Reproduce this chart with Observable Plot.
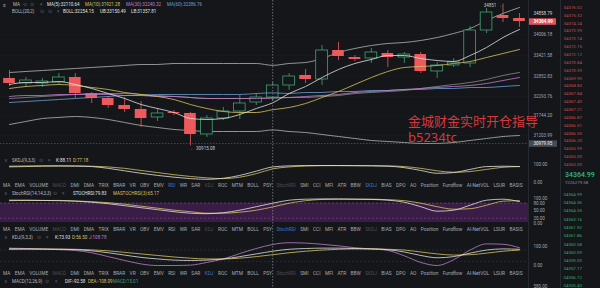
<!DOCTYPE html>
<html><head><meta charset="utf-8">
<script src="https://cdn.jsdelivr.net/npm/d3@7"></script>
<script src="https://cdn.jsdelivr.net/npm/@observablehq/plot@0.6"></script>
<style>
html,body{margin:0;padding:0;background:#14161a;overflow:hidden}
#root{position:relative;width:600px;height:288px;overflow:hidden;background:#14161a;font-family:Roboto,"Noto Sans",sans-serif}
.p{position:absolute}
.p svg{display:block;overflow:visible}
.t{position:absolute;white-space:nowrap;line-height:6px;height:6px}
.row{position:absolute;display:flex;justify-content:space-between;white-space:nowrap;line-height:6px;height:6px}
.sep{position:absolute;top:0;width:1px;height:288px;background:#262a30}
</style></head><body><div id="root"></div>
<script>
// ---------- data ----------
const opens  = [32786,32647,32647,32675,32813,32369,32231,32036,31926,31704,31842,31815,31232,31676,31870,32120,32258,32591,32869,32758,33562,33368,33340,33479,33368,33451,32980,33146,33202,34117,34533,34450];
const highs  = [33007,32813,32786,32924,32924,32397,32286,32258,32147,31953,31898,31842,31759,31981,32314,32369,32675,32924,33035,33701,33784,33423,33618,33562,33507,33507,33229,33340,34228,34727,34851,34589];
const lows   = [32564,32536,32536,32619,32231,32092,31953,31842,31426,31593,31759,30915.08,31149,31620,31648,32036,32147,32453,32647,32591,33285,33257,33202,33091,33202,32924,32786,33091,33091,34034,34339,34200];
const closes = [32647,32730,32702,32813,32369,32231,32036,31926,31676,31815,31815,31232,31676,31870,32092,32258,32591,32841,32758,33562,33396,33312,33507,33368,33451,32980,33146,33229,34117,34616,34450,34364.99];

const ma5  = [32619,32675,32675,32702,32619,32508,32369,32231,32064,31953,31842,31676,31648,31676,31787,31953,32111,32369,32564,32813,33035,33202,33313,33423,33423,33340,33285,33257,33423,33645,33923,34145];
const ma10 = [32508,32564,32591,32619,32591,32536,32481,32397,32342,32286,32203,32064,31953,31870,31842,31842,31921,31981,32092,32258,32425,32619,32813,32980,33091,33118,33146,33202,33257,33368,33479,33590];
const ma30 = [32286,32314,32314,32342,32342,32342,32342,32314,32314,32286,32286,32258,32231,32231,32231,32231,32240,32258,32286,32314,32342,32397,32425,32453,32481,32508,32536,32564,32591,32647,32730,32813];
const ma60 = [32120,32147,32175,32203,32231,32258,32286,32314,32314,32342,32342,32342,32342,32342,32342,32369,32387,32369,32397,32397,32425,32425,32453,32453,32481,32481,32508,32508,32536,32536,32564,32591];
const bollUp  = [32952,32980,33007,33035,33063,33091,33118,33146,33174,33174,33202,33202,33202,33202,33202,33202,33150,33202,33229,33340,33507,33618,33701,33756,33784,33840,33923,34034,34172,34394,34589,34755];
const bollMid = [32231,32258,32286,32314,32342,32369,32369,32369,32342,32314,32286,32258,32231,32231,32231,32231,32254,32258,32258,32286,32314,32369,32397,32425,32453,32508,32564,32619,32675,32758,32869,32952];
const bollLow = [31510,31593,31676,31704,31731,31704,31648,31565,31482,31426,31371,31343,31315,31315,31315,31315,31358,31315,31287,31232,31176,31121,31066,31038,31010,30983,30983,31010,31066,31121,31176,31204];

const priceTicks = [34006.18, 33421.58, 32852.83, 32293.76, 31744.20, 31203.99];
const lastPrice = 34364.99;
const markPrice = 34858.79;
const crossPrice = 30979.95;
const crossIndex = 16;
const lowIndex = 11;
const highIndex = 30;

const skdjK = [92,93,94,94,93,90,80,66,52,40,30,22,18,24,40,64,88,94,96,96,96,95,94,92,84,68,52,56,74,90,92,90];
const skdjD = [88,90,92,93,93,92,88,80,68,56,44,34,26,22,30,50,77,88,93,95,95,95,95,94,90,80,66,58,62,74,86,90];
const stochK = [92,92,91,90,88,84,78,70,62,54,46,40,38,42,52,66,80,92,96,97,97,96,95,92,84,66,48,52,72,92,96,86];
const stochMA = [90,91,91,91,89,86,82,76,68,60,52,46,40,40,44,52,65,80,90,95,96,96,96,94,90,80,66,56,58,72,88,90];
const stochBand = [3, 80];
const kdjK = [86,86,85,84,82,76,66,54,42,34,28,26,28,34,46,60,74,84,88,90,90,88,86,82,70,52,40,46,64,80,86,84];
const kdjD = [84,85,85,85,84,81,76,68,60,52,44,38,34,34,38,46,56,66,74,80,84,86,86,84,80,70,60,54,56,64,74,80];
const kdjJ = [90,88,86,82,78,66,46,26,8,0,0,2,16,34,62,88,109,118,116,110,102,92,86,78,50,16,0,30,80,112,110,92];
const oscTicks = [100, 0];
const stochTicks = [100, 80, 50, 20, 0];
const macdTicks = [580];

const asks = [34376.02,34375.32,34374.24,34373.99,34373.14,34372.15,34372.12,34370.84,34370.59,34369.90,34368.83,34367.84,34367.49,34367.21,34366.87,34366.51,34366.50,34366.20,34365.99,34365.00,34363.00];
const bids = [34364.99,34364.36,34364.35,34363.16,34361.92,34361.86,34360.58,34360.09,34359.00,34357.17,34356.72,34355.40];

const tabs = ["MA","EMA","VOLUME","MACD","DMI","DMA","TRIX","BRAR","VR","OBV","EMV","RSI","WR","SAR","KDJ","ROC","MTM","BOLL","PSY","StochRSI","SMI","CCI","MFI","ATR","BBW","SKDJ","BIAS","DPO","AO","Position","Fundflow","AI-NetVOL","LSUR","BASIS"];

// ---------- colours ----------
const BG = "#14161a", RED = "#ec5a5d", GREEN = "#41a474";
const C_WHITE = "#e2e2e2", C_YEL = "#d9c45c", C_PINK = "#c07ccc", C_BLUE = "#6a9fd8", C_BOLL = "#b4b4b4";
const AXIS = "#a3a7ad";

// ---------- helpers ----------
const root = document.getElementById("root");
const xDomain = [-0.547, 31.55];
const idx = closes.map((_, i) => i);
const baseStyle = {background: "transparent", overflow: "visible", maxWidth: "none", fontFamily: "Roboto, sans-serif"};
function place(node, left, top, width) {
  const d = document.createElement("div");
  d.className = "p"; d.style.left = left + "px"; d.style.top = top + "px"; d.style.width = width + "px";
  d.appendChild(node); root.appendChild(d);
}
function label(text, left, cy, color, size = 4.5, extra = {}) {
  const s = document.createElement("div");
  s.className = "t"; s.textContent = text;
  s.style.left = left + "px"; s.style.top = (cy - 3) + "px";
  s.style.color = color; s.style.fontSize = size + "px";
  Object.assign(s.style, extra);
  root.appendChild(s);
}
const series = (arr, color, w = 0.8) => Plot.line(idx, {x: d => d, y: d => arr[d], stroke: color, strokeWidth: w, curve: "monotone-x"});

// ---------- main candle chart ----------
const candles = idx.map(i => ({i, o: opens[i], h: highs[i], l: lows[i], c: closes[i]}));
const ups = candles.filter(d => d.c >= d.o);
const downs = candles.filter(d => d.c < d.o);
const main = Plot.plot({
  width: 528, height: 150, margin: 0,
  x: {domain: xDomain, axis: null},
  y: {domain: [30788, 34949], axis: null},
  style: baseStyle,
  marks: [
    Plot.ruleY(priceTicks, {stroke: "#1c1f24", strokeWidth: 0.6}),
    series(bollUp, C_BOLL), series(bollMid, "#9c9c9c", 0.7), series(bollLow, C_BOLL),
    Plot.ruleX(downs, {x: "i", y1: "l", y2: "h", stroke: RED, strokeWidth: 0.8}),
    Plot.rect(downs, {x1: d => d.i - 0.355, x2: d => d.i + 0.355, y1: "o", y2: "c", fill: RED}),
    Plot.ruleX(ups, {x: "i", y1: "l", y2: "h", stroke: GREEN, strokeWidth: 0.8}),
    Plot.rect(ups, {x1: d => d.i - 0.355, x2: d => d.i + 0.355, y1: "o", y2: "c", fill: BG, stroke: GREEN, strokeWidth: 0.8}),
    series(ma60, C_BLUE), series(ma30, C_PINK), series(ma10, C_YEL), series(ma5, C_WHITE),
    Plot.ruleY([crossPrice], {stroke: "#6b6f76", strokeWidth: 0.6, strokeDasharray: "1.5,1.5"}),
    Plot.text([lowIndex], {x: d => d, y: d => lows[d], text: d => "← " + lows[d].toFixed(2), textAnchor: "start", dy: 2.5, fill: "#c8cacd", fontSize: 4.5}),
    Plot.text([highIndex], {x: d => d, y: d => highs[d], text: d => highs[d] + " →", textAnchor: "end", dx: -1, dy: 1.8, fill: "#c8cacd", fontSize: 4.5})
  ]
});
place(main, 0, 0, 528);

// price axis column
const axisCol = Plot.plot({
  width: 32, height: 150, margin: 0,
  y: {domain: [30788, 34949], axis: null},
  style: baseStyle,
  marks: [
    Plot.text(priceTicks, {y: d => d, text: d => d.toFixed(2), frameAnchor: "left", textAnchor: "start", dx: 5, fill: AXIS, fontSize: 4.5}),
    Plot.text([lastPrice], {y: d => d, dy: -8, text: () => markPrice.toFixed(2), frameAnchor: "left", textAnchor: "start", dx: 5, fill: "#d4d6d9", fontSize: 4.5}),
    Plot.ruleY([lastPrice], {stroke: "#e5525c", strokeWidth: 6.5, insetLeft: 1, insetRight: 4}),
    Plot.text([lastPrice], {y: d => d, text: d => d.toFixed(2), frameAnchor: "left", textAnchor: "start", dx: 5, fill: "#ffffff", fontSize: 4.5, fontWeight: "bold"}),
    Plot.ruleY([crossPrice], {stroke: "#474b52", strokeWidth: 6.5, insetLeft: 1, insetRight: 3}),
    Plot.text([crossPrice], {y: d => d, text: d => d.toFixed(2), frameAnchor: "left", textAnchor: "start", dx: 5, fill: "#f0f0f0", fontSize: 4.5})
  ]
});
place(axisCol, 528, 0, 32);

// ---------- indicator panels ----------
function panel(top, height, mt, mb, domain, ticks, marks) {
  const p = Plot.plot({
    width: 560, height, marginLeft: 0, marginRight: 32, marginTop: mt, marginBottom: mb,
    x: {domain: xDomain, axis: null},
    y: {domain, axis: null},
    style: baseStyle,
    marks: [
      ...marks,
      Plot.text(ticks, {y: d => d, text: d => d.toFixed(2), frameAnchor: "right", textAnchor: "start", dx: 5, fill: AXIS, fontSize: 4.5})
    ]
  });
  place(p, 0, top, 560);
}
panel(150, 36, 14.3, 4, [0, 100], oscTicks, [
  series(skdjD, C_YEL), series(skdjK, C_WHITE)
]);
panel(190, 36, 7.7, 3.3, [0, 100], stochTicks, [
  Plot.rect([stochBand], {y1: d => d[0], y2: d => d[1], fill: "#3a1d47"}),
  Plot.ruleY([80, 20], {stroke: "#8a5a9a", strokeWidth: 0.5, strokeDasharray: "2,2"}),
  series(stochMA, C_YEL), series(stochK, C_WHITE)
]);
panel(233, 40, 12.7, 8, [0, 100], oscTicks, [
  Plot.ruleY([80, 20], {stroke: "#3a3e45", strokeWidth: 0.5, strokeDasharray: "2,2"}),
  series(kdjJ, C_PINK), series(kdjD, C_YEL), series(kdjK, C_WHITE)
]);
panel(277, 60, 8.7, 0, [-800, 580], macdTicks, []);

// crosshair across all panels
const cross = Plot.plot({
  width: 528, height: 288, margin: 0,
  x: {domain: xDomain, axis: null},
  style: baseStyle,
  marks: [Plot.ruleX([crossIndex], {stroke: "#8b8f96", strokeWidth: 0.7, strokeDasharray: "1.5,1.5"})]
});
place(cross, 0, 0, 528);

// ---------- order book ----------
const askPlot = Plot.plot({
  width: 40, height: 288, margin: 0,
  y: {domain: [0, asks.length - 1], range: [7, 164], axis: null},
  style: baseStyle,
  marks: [Plot.text(asks, {y: (d, i) => i, text: d => d.toFixed(2), frameAnchor: "left", textAnchor: "start", dx: 3, fill: "#c24d4f", fontSize: 4.4})]
});
place(askPlot, 560, 0, 40);
const bidPlot = Plot.plot({
  width: 40, height: 288, margin: 0,
  y: {domain: [0, bids.length - 1], range: [194, 285], axis: null},
  style: baseStyle,
  marks: [Plot.text(bids, {y: (d, i) => i, text: d => d.toFixed(2), frameAnchor: "left", textAnchor: "start", dx: 3, fill: "#3aa676", fontSize: 4.4})]
});
place(bidPlot, 560, 0, 40);

// separators
for (const l of [528, 560]) { const s = document.createElement("div"); s.className = "sep"; s.style.left = l + "px"; root.appendChild(s); }

// ---------- legends / headers ----------
const DIM = "#62666d", NAME = "#b9bcc1";
label("≡", 3, 5, NAME, 5); label("MA", 13, 5, NAME); label("⊙", 23, 5, DIM); label("⊙", 30, 5, DIM); label("×", 40, 5, DIM);
label("MA(5):32110.64", 47, 5, C_WHITE); label("MA(10):31921.28", 85, 5, C_YEL); label("MA(30):32240.32", 126, 5, C_PINK); label("MA(60):32386.76", 167, 5, C_BLUE);
label("BOLL(20,2)", 12, 12, NAME); label("⊙", 40, 12, DIM); label("⊙", 48, 12, DIM); label("×", 57, 12, DIM);
label("BOLL:32254.15", 63, 12, C_WHITE); label("UB:33150.49", 100, 12, C_WHITE); label("LB:31357.81", 131, 12, C_WHITE);

label("∨", 4, 161, DIM); label("SKDJ(9,3,3)", 12, 161, NAME); label("⊙", 39, 161, DIM); label("×", 48, 161, DIM);
label("K:88.11", 56, 161, C_WHITE); label("D:77.18", 73, 161, C_YEL);
label("∨", 4, 194, DIM); label("StochRSI(14,14,3,3)", 12, 194, NAME); label("⊙", 53, 194, DIM); label("×", 62, 194, DIM);
label("STOCHRSI:79.83", 73, 194, C_WHITE); label("MASTOCHRSI(3):65.17", 113, 194, C_YEL);
label("∨", 4, 238, DIM); label("KDJ(9,3,3)", 12, 238, NAME); label("⊙", 37, 238, DIM); label("×", 46, 238, DIM);
label("K:73.93", 55, 238, C_WHITE); label("D:56.50", 72, 238, C_YEL); label("J:108.78", 89, 238, C_PINK);
label("∨", 4, 282, DIM); label("MACD(12,26,9)", 12, 282, NAME); label("⊙", 45, 282, DIM); label("×", 55, 282, DIM);
label("DIF:-92.58", 65, 282, C_WHITE); label("DEA:-108.09", 88, 282, C_YEL); label("MACD:15.01", 113, 282, "#3aa676");

function tabRow(cy, blue, dim) {
  const r = document.createElement("div");
  r.className = "row"; r.style.left = "3px"; r.style.width = "520px"; r.style.top = (cy - 3) + "px"; r.style.fontSize = "4.8px";
  for (const w of tabs) {
    const s = document.createElement("span"); s.textContent = w;
    s.style.color = blue.includes(w) ? "#3f73d8" : dim.includes(w) ? "#4b4f56" : "#a6aab0";
    r.appendChild(s);
  }
  root.appendChild(r);
}
tabRow(186, ["SKDJ", "RSI"], ["MACD", "KDJ", "StochRSI"]);
tabRow(230, ["StochRSI"], ["MACD", "KDJ", "SKDJ"]);
tabRow(274, ["KDJ"], ["MACD", "StochRSI", "SKDJ"]);

// order book centre price
label("34364.99", 565, 175, "#2ebd85", 7, {lineHeight: "8px", height: "8px", top: "171px", fontWeight: "500"});
label("¥226279.58", 565, 183, "#8a8f96", 4.4);

// watermark
label("金城财金实时开仓指导", 408, 121, "#d8383a", 13, {lineHeight: "14px", height: "14px", top: "114px", fontFamily: "'Noto Sans CJK SC', sans-serif"});
label("b5234tc", 408, 137, "#d8383a", 13, {lineHeight: "14px", height: "14px", top: "130px", fontFamily: "'Noto Sans', sans-serif"});
</script></body></html>
